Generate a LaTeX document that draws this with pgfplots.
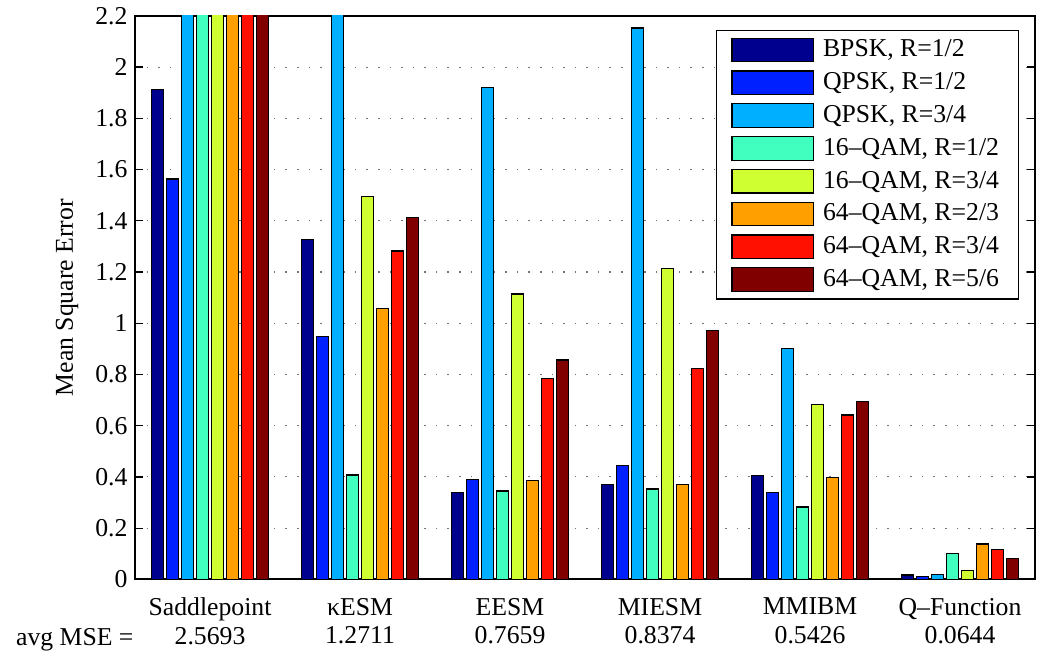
\documentclass[border=0pt]{standalone}
\usepackage{fontspec}
\setmainfont{Liberation Serif}
\usepackage{pgfplots}
\pgfplotsset{compat=1.18}
\definecolor{c1}{RGB}{0,0,143}
\definecolor{c2}{RGB}{0,32,255}
\definecolor{c3}{RGB}{0,175,255}
\definecolor{c4}{RGB}{64,255,191}
\definecolor{c5}{RGB}{207,255,48}
\definecolor{c6}{RGB}{255,159,0}
\definecolor{c7}{RGB}{255,16,0}
\definecolor{c8}{RGB}{128,0,0}
\pgfplotstableread{
x y
1 1.911
2 1.326
3 0.340
4 0.371
5 0.405
6 0.017
}\sA
\pgfplotstableread{
x y
1 1.563
2 0.948
3 0.390
4 0.444
5 0.340
6 0.010
}\sB
\pgfplotstableread{
x y
1 2.600
2 2.241
3 1.919
4 2.153
5 0.901
6 0.020
}\sC
\pgfplotstableread{
x y
1 2.700
2 0.408
3 0.345
4 0.353
5 0.283
6 0.102
}\sD
\pgfplotstableread{
x y
1 2.900
2 1.494
3 1.114
4 1.213
5 0.683
6 0.034
}\sE
\pgfplotstableread{
x y
1 2.900
2 1.058
3 0.386
4 0.370
5 0.399
6 0.138
}\sF
\pgfplotstableread{
x y
1 3.000
2 1.282
3 0.784
4 0.823
5 0.642
6 0.118
}\sG
\pgfplotstableread{
x y
1 2.980
2 1.412
3 0.857
4 0.972
5 0.694
6 0.082
}\sH
\pgfplotsset{
  mybar/.style={fill=#1, draw=black, line width=0.6pt,
    legend image code/.code={\draw[fill=#1, draw=black, line width=0.6pt] (0pt,-5.5pt) rectangle (38pt,5.5pt);}},
}
\begin{document}
\begin{tikzpicture}
\begin{axis}[
  name=ax,
  scale only axis,
  width=420pt, height=263pt,
  xmin=0.5, xmax=6.5, ymin=0, ymax=2.2,
  ybar, bar width=0.08,
  xtick={1,2,3,4,5,6},
  xticklabels={{Saddlepoint\\2.5693},{κESM\\1.2711},{EESM\\0.7659},{MIESM\\0.8374},{MMIBM\\0.5426},{Q--Function\\0.0644}},
  xticklabel style={align=center, yshift=-5.2pt},
  xtick style={draw=none},
  ytick={0,0.2,0.4,0.6,0.8,1,1.2,1.4,1.6,1.8,2,2.2},
  yticklabel style={/pgf/number format/fixed},
  /pgf/number format/assume math mode=true,
  ymajorgrids,
  major grid style={dash pattern=on 0.7pt off 4.7pt, black!55, line width=0.5pt},
  tick align=inside,
  major tick length=3.7pt,
  ytick style={black, line width=0.6pt},
  axis line style={line width=0.9pt},
  font=\fontsize{12}{13.4}\selectfont,
  ylabel={Mean Square Error},
  ylabel style={at={(axis description cs:-0.069,0.5)}, anchor=base},
  legend style={at={(rel axis cs:1,1)}, xshift=-7.5pt, yshift=-6.5pt, anchor=north east,
    draw=black, line width=0.6pt, fill=white, inner xsep=7pt, inner ysep=1.5pt,
    font=\fontsize{12}{13.4}\selectfont,
    nodes={text height=9pt, text depth=2.5pt, inner ysep=1.9pt},
    column sep=2.2pt, row sep=0pt},
  legend cell align=left,
]
\addplot[mybar=c1, bar shift=-0.35] table[x=x,y=y]{\sA};
\addlegendentry{BPSK, R=1/2}
\addplot[mybar=c2, bar shift=-0.25] table[x=x,y=y]{\sB};
\addlegendentry{QPSK, R=1/2}
\addplot[mybar=c3, bar shift=-0.15] table[x=x,y=y]{\sC};
\addlegendentry{QPSK, R=3/4}
\addplot[mybar=c4, bar shift=-0.05] table[x=x,y=y]{\sD};
\addlegendentry{16--QAM, R=1/2}
\addplot[mybar=c5, bar shift=0.05] table[x=x,y=y]{\sE};
\addlegendentry{16--QAM, R=3/4}
\addplot[mybar=c6, bar shift=0.15] table[x=x,y=y]{\sF};
\addlegendentry{64--QAM, R=2/3}
\addplot[mybar=c7, bar shift=0.25] table[x=x,y=y]{\sG};
\addlegendentry{64--QAM, R=3/4}
\addplot[mybar=c8, bar shift=0.35] table[x=x,y=y]{\sH};
\addlegendentry{64--QAM, R=5/6}
\end{axis}
\node[anchor=base east, font=\fontsize{12}{13.4}\selectfont, inner sep=0pt, xshift=-0.5pt, yshift=-30.8pt] at (ax.south west) {avg MSE =};
\path (ax.south west) ++(-63pt,0pt);
\path (ax.south east) ++(2.8pt,0pt);
\end{tikzpicture}
\end{document}
